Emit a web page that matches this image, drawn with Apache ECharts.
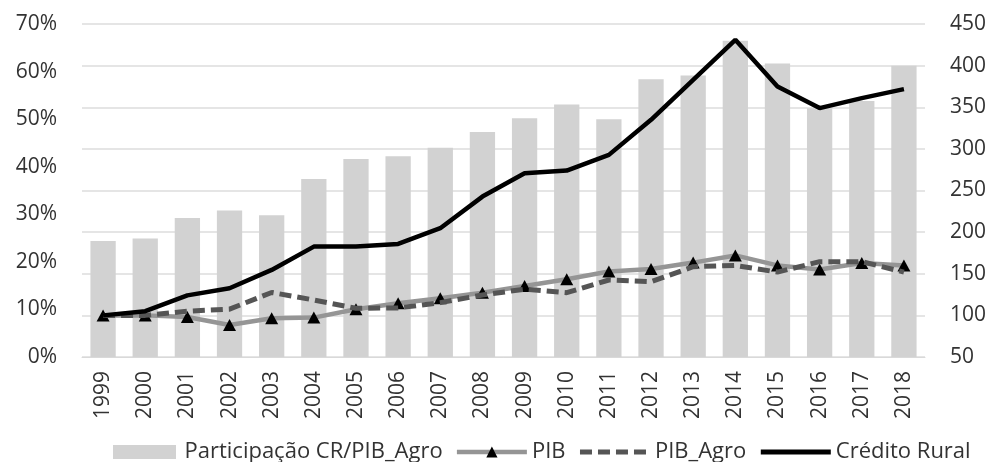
<!DOCTYPE html>
<html>
<head>
<meta charset="utf-8">
<script src="https://cdn.jsdelivr.net/npm/echarts@6/dist/echarts.min.js"></script>
<style>
  html, body { margin: 0; padding: 0; background: #fff; }
  #chart { width: 995px; height: 462px; }
</style>
</head>
<body>
<div id="chart"></div>
<script>
// Years on the category axis
var years = ['1999','2000','2001','2002','2003','2004','2005','2006','2007','2008',
             '2009','2010','2011','2012','2013','2014','2015','2016','2017','2018'];

// Share of rural credit in agribusiness GDP (left axis, fraction)
var participacao = [0.244, 0.249, 0.292, 0.308, 0.298, 0.374, 0.416, 0.422, 0.440, 0.473,
                    0.502, 0.531, 0.500, 0.584, 0.592, 0.665, 0.617, 0.523, 0.538, 0.612];

// Indices, 1999 = 100 (right axis)
var pib = [100, 100, 98, 88.5, 96.5, 97.3, 107.3, 114.5, 120.5, 127.3,
           135.3, 143.4, 152.6, 155.8, 163.4, 172, 160, 155, 163, 160];
var pibAgro = [100, 100, 105, 107.5, 127.5, 118.5, 108.5, 109, 115.3, 124.5,
               131.4, 127.3, 142.5, 140.5, 158.5, 160, 152, 164.5, 164.5, 152];
var creditoRural = [100, 105, 124, 132.6, 154.6, 182.6, 182.6, 185.8, 204.7, 242.7,
                    270.8, 274, 292.8, 334.9, 383, 431, 374.9, 349, 361, 371.8];

// Axis ranges
var leftMin = 0, leftMax = 0.7, leftStep = 0.1;
var rightMin = 50, rightMax = 450, rightStep = 50;

var FONT = '"Open Sans", "Noto Sans", sans-serif';
var TEXT = '#333333';

var chart = echarts.init(document.getElementById('chart'), null, { renderer: 'canvas' });

chart.setOption({
  animation: false,
  backgroundColor: '#ffffff',
  grid: { left: 82, right: 70, top: 24, bottom: 105 },
  legend: {
    left: 108,
    top: 436,
    itemWidth: 70,
    itemHeight: 14,
    itemGap: 12,
    textStyle: { fontFamily: FONT, fontSize: 22, color: TEXT },
    data: [
      { name: 'Participação CR/PIB_Agro', icon: 'path://M0,0h63v14h-63z' },
      { name: 'PIB', lineStyle: { width: 4.5 } },
      { name: 'PIB_Agro', lineStyle: { width: 5 }, itemStyle: { opacity: 0 } },
      { name: 'Crédito Rural', lineStyle: { width: 5 }, itemStyle: { opacity: 0 } }
    ]
  },
  xAxis: {
    type: 'category',
    data: years,
    axisTick: { show: false },
    axisLine: { show: true, lineStyle: { color: '#d9d9d9', width: 1 } },
    axisLabel: {
      rotate: 90,
      margin: 14,
      fontFamily: FONT,
      fontSize: 21,
      color: TEXT
    }
  },
  yAxis: [
    {
      type: 'value',
      min: leftMin,
      max: leftMax,
      interval: leftStep,
      position: 'left',
      splitLine: { show: false },
      axisLine: { show: false },
      axisTick: { show: false },
      axisLabel: {
        margin: 25,
        fontFamily: FONT,
        fontSize: 21,
        color: TEXT,
        formatter: function (v) { return Math.round(v * 100) + '%'; }
      }
    },
    {
      type: 'value',
      min: rightMin,
      max: rightMax,
      interval: rightStep,
      position: 'right',
      splitLine: { show: true, lineStyle: { color: '#dcdcdc', width: 1.5 } },
      axisLine: { show: false },
      axisTick: { show: false },
      axisLabel: {
        margin: 25,
        fontFamily: FONT,
        fontSize: 21,
        color: TEXT
      }
    }
  ],
  series: [
    {
      name: 'Participação CR/PIB_Agro',
      type: 'bar',
      yAxisIndex: 0,
      data: participacao,
      barCategoryGap: '40%',
      itemStyle: { color: '#d2d2d2' },
      z: 1
    },
    {
      name: 'PIB',
      type: 'line',
      yAxisIndex: 1,
      data: pib,
      symbol: 'triangle',
      symbolSize: [13, 12],
      itemStyle: { color: '#000000' },
      lineStyle: { color: '#959595', width: 4.5 },
      z: 3
    },
    {
      name: 'PIB_Agro',
      type: 'line',
      yAxisIndex: 1,
      data: pibAgro,
      symbol: 'none',
      itemStyle: { color: '#555555' },
      lineStyle: { color: '#555555', width: 5, type: [12, 6] },
      z: 4
    },
    {
      name: 'Crédito Rural',
      type: 'line',
      yAxisIndex: 1,
      data: creditoRural,
      symbol: 'none',
      itemStyle: { color: '#000000' },
      lineStyle: { color: '#000000', width: 4.5 },
      z: 5
    }
  ]
});
</script>
</body>
</html>
